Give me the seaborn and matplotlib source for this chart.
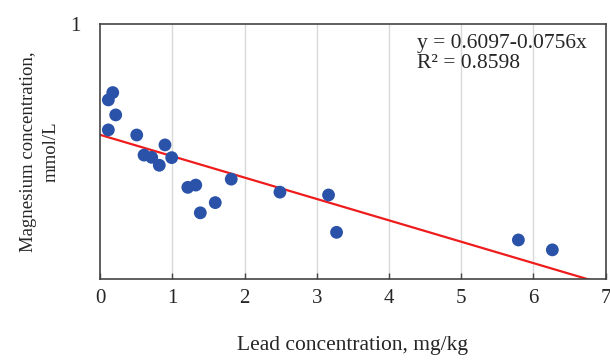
import matplotlib
matplotlib.use("Agg")
import matplotlib.pyplot as plt
import seaborn as sns
import numpy as np
import pandas as pd

# Data
lead = [0.176, 0.115, 0.217, 0.115, 0.508, 0.899, 0.609, 0.715, 0.992, 0.820,
        1.215, 1.325, 1.816, 1.595, 1.388, 2.490, 3.163, 3.274, 5.791, 6.261]
magnesium = [0.759, 0.733, 0.680, 0.627, 0.609, 0.574, 0.538, 0.530, 0.529, 0.502,
             0.424, 0.432, 0.453, 0.370, 0.334, 0.407, 0.397, 0.265, 0.238, 0.203]
intercept = 0.6097
slope = -0.0756
r2 = 0.8598
x_ticks = [0, 1, 2, 3, 4, 5, 6, 7]

sns.set_theme(style="white")
plt.rcParams['font.family'] = ['Liberation Serif', 'DejaVu Serif']

fig = plt.figure(figsize=(6.1, 3.64), dpi=100)
ax = fig.add_axes([0.164, 0.2335, 0.829, 0.6995])

df = pd.DataFrame({"lead": lead, "mg": magnesium})
fit_x = np.array([0.0, 7.0])
fit = pd.DataFrame({"x": fit_x, "y": intercept + slope * fit_x})

for xv in x_ticks[1:-1]:
    ax.axvline(xv, color="#d9d9d9", lw=1.0, zorder=0)

sns.lineplot(data=fit, x="x", y="y", color="#ee1c1c", lw=1.6, ax=ax, zorder=2)
sns.scatterplot(data=df, x="lead", y="mg", color="#2a52a8", s=85, edgecolor="none",
                ax=ax, zorder=3)

ax.set_xlim(0, 7)
ax.set_ylim(0.1, 1.0)
ax.set_xticks(x_ticks)
ax.set_xticklabels([str(v) for v in x_ticks], fontsize=15)
ax.set_yticks([1.0])
ax.set_yticklabels(["1"], fontsize=15)
ax.tick_params(axis="x", direction="in", length=4, width=1, color="#444444", pad=7,
               bottom=True)
ax.tick_params(axis="y", length=0, pad=14)

for s in ax.spines.values():
    s.set_color("#444444")
    s.set_linewidth(1.2)
    s.set_visible(True)

ax.set_xlabel("Lead concentration, mg/kg", fontsize=15.5, labelpad=20)
ax.set_ylabel("Magnesium concentration,\nmmol/L", fontsize=13.5, linespacing=1.45)
ax.yaxis.set_label_coords(-0.08, 0.5)

ax.text(0.626, 0.925, f"y = {intercept:.4f}-{abs(slope):.4f}x", transform=ax.transAxes,
        fontsize=15.5, ha="left", va="center")
ax.text(0.626, 0.845, f"R\u00b2 = {r2:.4f}", transform=ax.transAxes,
        fontsize=15.5, ha="left", va="center")

fig.savefig("out.png", dpi=100)
